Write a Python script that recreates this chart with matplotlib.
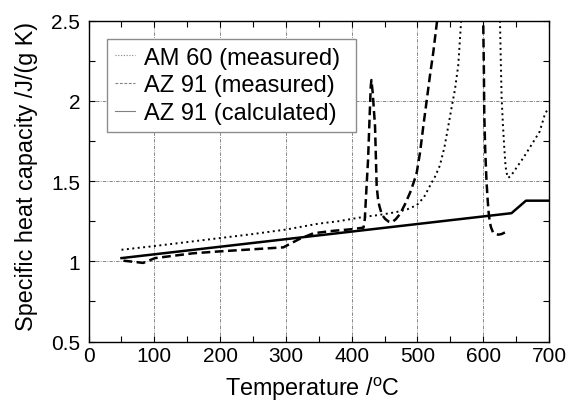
import matplotlib
matplotlib.use("Agg")
import matplotlib.pyplot as plt
from matplotlib.lines import Line2D
from matplotlib.ticker import MultipleLocator, FuncFormatter

plt.rcParams['font.family'] = ['Liberation Sans', 'DejaVu Sans']
plt.rcParams['mathtext.fontset'] = 'custom'
plt.rcParams['mathtext.rm'] = 'Liberation Sans'

# AM 60 (measured)
am60_T = [50, 100, 150, 200, 250, 300, 350, 380, 417, 440, 455, 468, 485, 499, 510, 519, 527, 534, 541, 547, 552,
          557, 562, 566, 570, 590, 610, 622,
          625.5, 627, 628, 630, 632, 634, 636, 638, 641, 646, 651, 661, 671, 680, 686, 694, 697]
am60_cp = [1.072, 1.095, 1.12, 1.145, 1.17, 1.198, 1.235, 1.25, 1.276, 1.288, 1.298, 1.307, 1.325, 1.35, 1.40, 1.47, 1.53, 1.596, 1.71, 1.845, 1.96,
           2.07, 2.22, 2.47, 2.7, 3.3, 3.3, 2.7,
           2.5, 2.2, 2.02, 1.85, 1.71, 1.59, 1.545, 1.52, 1.53, 1.555, 1.586, 1.645, 1.71, 1.77, 1.81, 1.92, 1.94]

# AZ 91 (measured)
az91m_T = [53, 83, 101, 159, 200, 296, 321, 342, 372, 400, 418, 420, 422, 425, 427, 429, 430, 432, 434, 435.5, 437, 438,
           440, 442, 446, 451, 456, 461, 467, 473.5, 481, 489, 495, 499, 504, 509, 514, 519, 524, 529, 533,
           560, 590, 596, 600, 601, 601.6, 603, 605, 606.5, 608, 610, 612, 615, 619, 623, 628, 633]
az91m_cp = [1.004, 0.99, 1.02, 1.05, 1.062, 1.087, 1.14, 1.175, 1.19, 1.2, 1.21, 1.264, 1.42, 1.64, 1.87, 2.09, 2.13, 2.05, 1.93, 1.845, 1.62, 1.47,
            1.39, 1.347, 1.29, 1.264, 1.248, 1.243, 1.262, 1.295, 1.355, 1.43, 1.50, 1.555, 1.68, 1.845, 2.0, 2.157, 2.30, 2.47, 2.6,
            3.4, 3.4, 2.7, 2.5, 2.2, 1.92, 1.7, 1.50, 1.40, 1.315, 1.243, 1.21, 1.18, 1.17, 1.166, 1.17, 1.18]

# AZ 91 (calculated)
az91c_T = [50, 643, 665, 700]
az91c_cp = [1.02, 1.30, 1.378, 1.378]

labels = ["AM 60 (measured)", "AZ 91 (measured)", "AZ 91 (calculated)"]

fig = plt.figure(figsize=(5.68, 4.02), dpi=100)
ax = fig.add_axes([0.156, 0.148, 0.8105, 0.798])

ax.plot(am60_T, am60_cp, color='black', lw=1.4, linestyle=(0, (1, 1.8)))
ax.plot(az91m_T, az91m_cp, color='black', lw=1.8, linestyle=(0, (3.5, 1.8)))
ax.plot(az91c_T, az91c_cp, color='black', lw=1.8, linestyle='-')

ax.set_xlim(0, 700)
ax.set_ylim(0.5, 2.5)
ax.xaxis.set_major_locator(MultipleLocator(100))
ax.xaxis.set_minor_locator(MultipleLocator(50))
ax.yaxis.set_major_locator(MultipleLocator(0.5))
ax.yaxis.set_minor_locator(MultipleLocator(0.25))
ax.yaxis.set_major_formatter(FuncFormatter(lambda v, p: '%g' % v))

ax.tick_params(which='both', direction='in', top=True, right=True, labelsize=15, width=0.8)
ax.tick_params(which='major', length=4)
ax.tick_params(which='minor', length=4)
ax.tick_params(axis='x', which='major', pad=3.5)
ax.tick_params(axis='y', which='major', pad=6)
ax.grid(True, which='major', color='0.45', lw=0.6, linestyle=(0, (4, 1.5, 1, 1.5)))
for s in ax.spines.values():
    s.set_linewidth(1.0)

ax.set_xlabel(r'Temperature /$^{\mathrm{o}}$C', fontsize=16.8, va='baseline')
ax.xaxis.set_label_coords(0.486, -0.168)
ax.set_ylabel('Specific heat capacity /J/(g K)', fontsize=16.8, va='baseline')
ax.yaxis.set_label_coords(-0.1205, 0.519)

handles = [
    Line2D([], [], color='0.5', lw=0.8, linestyle=(0, (1, 1.5))),
    Line2D([], [], color='0.5', lw=0.8, linestyle=(0, (2.5, 1.5))),
    Line2D([], [], color='0.5', lw=0.8, linestyle='-'),
]
leg = ax.legend(handles, labels, loc='upper left', bbox_to_anchor=(0.04, 0.0, 0.5407, 0.943), mode='expand',
                fontsize=17, frameon=True, fancybox=False, edgecolor='0.55', framealpha=1,
                handlelength=0.85, handletextpad=0.4, labelspacing=0.25, borderpad=0.32,
                borderaxespad=0)
leg.get_frame().set_linewidth(1.0)

fig.savefig('out.png', dpi=100)
